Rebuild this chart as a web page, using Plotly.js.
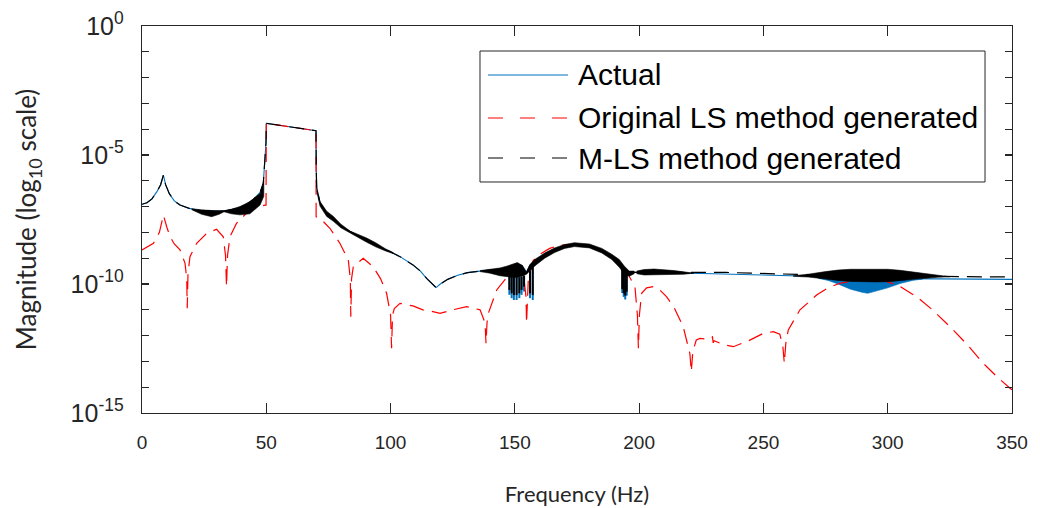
<!DOCTYPE html>
<html>
<head>
<meta charset="utf-8">
<script src="https://cdn.plot.ly/plotly-3.0.1.min.js"></script>
<style>html,body{margin:0;padding:0;background:#fff;}#chart{width:1040px;height:508px;}</style>
</head>
<body>
<div id="chart"></div>
<script>
// ---- Data (magnitudes stored as log10 values) ----
const actualX = [0,2,4,6,7.5,8.6,9.5,11,13,15.3,19,23,28,33,38,42,45,47.5,48.8,49.5,49.9,50,70,70.1,70.3,71.6,74.3,77,79.6,83.7,86,90.4,94,98,103.8,109,112,114.5,116.5,118.3,120,123,127,131,136,140,144,148,151,153,154.7,156,158,162,166,170,173.5,178,182,186,189,192,194,196,198,202,210,220,230,245,260,275,290,305,320,335,350];
const actualLog = [-6.91,-6.85,-6.7,-6.42,-6.15,-5.78,-6.15,-6.5,-6.78,-6.94,-7.07,-7.14,-7.17,-7.17,-7.08,-6.92,-6.7,-6.45,-6.1,-5.3,-4.5,-3.77,-4.06,-5.6,-6.3,-6.85,-7.26,-7.45,-7.71,-7.97,-8.08,-8.29,-8.47,-8.67,-8.94,-9.26,-9.5,-9.78,-9.98,-10.14,-10.0,-9.82,-9.66,-9.56,-9.5,-9.47,-9.42,-9.33,-9.22,-9.3,-9.55,-9.3,-9.1,-8.85,-8.65,-8.52,-8.46,-8.5,-8.6,-8.75,-8.92,-9.15,-9.4,-9.6,-9.55,-9.55,-9.56,-9.58,-9.6,-9.64,-9.68,-9.73,-9.77,-9.79,-9.8,-9.81,-9.82];

const lsX = [0,4.6,7,8.6,10,11.3,13,15.3,17.3,18,18.2,18.5,19.3,22,26,30,32.7,33.6,34,34.4,35.4,38,42,46,49.5,49.9,50,70,70.05,72.3,75.6,79.6,83,83.8,84,84.3,85,89,93,96,98.4,100,100.4,100.8,101.5,103.8,109,113,116,119.9,125,130.6,136,138,138.4,138.8,139.3,142.7,148,151,153.4,154.5,154.7,155,155.4,157.3,160,164,168,173.5,179,184,188,191,194,196,198.3,199.3,199.7,200.1,201,203,205.7,208,211,214,217.7,220.4,221,221.6,223,224.5,228,229.5,229.8,230.2,234,237.9,244,250,254,256.6,257.8,258.4,259,260,264.7,271.4,276,280.8,290,299.5,305,311.6,318,325,332,338.4,344,349.2,350];
const lsLog = [-8.68,-8.42,-8.0,-7.33,-7.8,-8.17,-8.45,-8.68,-9.19,-9.8,-10.94,-9.6,-8.94,-8.42,-8.04,-7.88,-8.17,-8.9,-10.1,-8.9,-8.17,-7.65,-7.26,-7.03,-6.94,-6.94,-3.77,-4.06,-7.39,-7.52,-7.84,-8.42,-9.07,-9.8,-11.27,-9.8,-9.33,-9.0,-9.33,-9.8,-10.36,-11.2,-12.49,-11.2,-10.95,-10.75,-10.85,-11.0,-11.05,-11.14,-11.0,-10.88,-11.0,-11.5,-12.3,-11.5,-11.14,-10.23,-9.59,-9.45,-9.59,-10.5,-11.52,-10.5,-9.84,-9.1,-8.85,-8.62,-8.5,-8.46,-8.5,-8.68,-8.85,-9.07,-9.4,-9.7,-10.1,-11.2,-12.49,-11.2,-10.36,-10.15,-10.1,-10.2,-10.49,-10.9,-11.65,-12.69,-13.4,-12.6,-12.17,-12.11,-12.15,-12.05,-12.28,-12.2,-12.35,-12.43,-12.2,-11.91,-11.85,-11.95,-12.4,-13.07,-12.3,-11.78,-11.0,-10.43,-10.15,-9.97,-9.82,-9.9,-10.1,-10.49,-11.0,-11.65,-12.35,-13.07,-13.6,-14.04,-14.1];

const mlsX = [0,2,4,6,7.5,8.6,9.5,11,13,15.3,19,23,28,33,38,42,45,47.5,48.8,49.5,49.9,50,70,70.1,70.3,71.6,74.3,77,79.6,83.7,86,90.4,94,98,103.8,109,112,114.5,116.5,118.3,120,123,127,131,136,140,144,148,151,153,154.7,156,158,162,166,170,173.5,178,182,186,189,192,194,196,198,202,210,218,225,235,245,255,265,280,300,320,335,350];
const mlsLog = [-6.91,-6.85,-6.7,-6.42,-6.15,-5.78,-6.15,-6.5,-6.78,-6.94,-7.07,-7.14,-7.17,-7.17,-7.08,-6.92,-6.7,-6.45,-6.1,-5.3,-4.5,-3.77,-4.06,-5.6,-6.3,-6.85,-7.26,-7.45,-7.71,-7.97,-8.08,-8.29,-8.47,-8.67,-8.94,-9.26,-9.5,-9.78,-9.98,-10.14,-10.0,-9.82,-9.66,-9.56,-9.5,-9.47,-9.42,-9.33,-9.22,-9.3,-9.55,-9.3,-9.1,-8.85,-8.65,-8.52,-8.46,-8.5,-8.6,-8.75,-8.92,-9.15,-9.4,-9.6,-9.55,-9.55,-9.55,-9.54,-9.53,-9.55,-9.58,-9.61,-9.64,-9.67,-9.69,-9.7,-9.71,-9.73];

// oscillation envelopes (M-LS, black)
const mlsBand1X  = [20,24,28,31,33,36,39.4,43.4,47.5,49];
const mlsBand1Hi = [-7.08,-7.13,-7.15,-7.16,-7.16,-7.1,-7.0,-6.81,-6.49,-6.0];
const mlsBand1Lo = [-7.12,-7.3,-7.39,-7.3,-7.2,-7.28,-7.32,-7.28,-6.94,-6.6];
const mlsBand2X  = [70.3,71.6,74.3,77,80,83.7,86,90.4,94,98,101];
const mlsBand2Hi = [-6.25,-6.8,-7.18,-7.38,-7.68,-7.95,-8.04,-8.22,-8.4,-8.64,-8.78];
const mlsBand2Lo = [-6.4,-6.98,-7.38,-7.57,-7.82,-8.0,-8.14,-8.38,-8.56,-8.72,-8.82];
const mlsBand3X  = [136,140,144,147,149,151,153,154.7,156,158,162,166,170,174,180,185,189,192,194,196,198];
const mlsBand3Hi = [-9.48,-9.44,-9.38,-9.3,-9.24,-9.17,-9.28,-9.55,-9.25,-9.05,-8.8,-8.6,-8.47,-8.4,-8.45,-8.62,-8.85,-9.05,-9.3,-9.5,-9.5];
const mlsBand3Lo = [-9.52,-9.58,-9.68,-9.72,-9.74,-9.75,-9.7,-9.62,-9.5,-9.3,-9.0,-8.78,-8.62,-8.55,-8.6,-8.8,-9.05,-9.35,-9.6,-9.7,-9.6];
const mlsBand4X  = [199,202,206,210,214,218,222];
const mlsBand4Hi = [-9.5,-9.44,-9.42,-9.44,-9.48,-9.53,-9.56];
const mlsBand4Lo = [-9.6,-9.65,-9.66,-9.65,-9.63,-9.62,-9.58];
const mlsBand5X  = [262,268,275,280,285,290,295,300,305,310,315,320,325];
const mlsBand5Hi = [-9.68,-9.62,-9.52,-9.46,-9.43,-9.42,-9.42,-9.43,-9.47,-9.53,-9.6,-9.66,-9.7];
const mlsBand5Lo = [-9.7,-9.73,-9.8,-9.86,-9.9,-9.92,-9.92,-9.91,-9.87,-9.82,-9.77,-9.74,-9.72];
// oscillation envelope (Actual, blue)
const actBandX  = [272,276,280,285,290,292,295,300,305,310,314];
const actBandHi = [-9.74,-9.75,-9.76,-9.77,-9.78,-9.78,-9.78,-9.79,-9.79,-9.8,-9.8];
const actBandLo = [-9.78,-9.86,-10.0,-10.2,-10.33,-10.36,-10.3,-10.15,-9.98,-9.86,-9.81];
// downward spikes
const spikeX      = [147.8,148.7,149.6,150.7,151.8,152.7,153.7,156.1,157.2,193.2,193.8,194.4,195.0];
const spikeTop    = [-9.7,-9.72,-9.73,-9.74,-9.74,-9.72,-9.68,-9.5,-9.35,-9.3,-9.4,-9.5,-9.6];
const mlsSpikeBot = [-10.23,-10.36,-10.43,-10.43,-10.36,-10.23,-10.1,-10.36,-10.43,-10.2,-10.36,-10.45,-10.3];
const actSpikeBot = [-10.42,-10.55,-10.62,-10.62,-10.55,-10.42,-10.29,-10.55,-10.62,-10.35,-10.5,-10.6,-10.45];

const yMajor = [-15,-10,-5,0];
const yMinor = [-14,-13,-12,-11,-9,-8,-7,-6,-4,-3,-2,-1];
const xTicks = [0,50,100,150,200,250,300,350];
const legendLabels = ['Actual','Original LS method generated','M-LS method generated'];

// ---- Build ----
const mag = a => a.map(v => Math.pow(10, v));
const BLUE = '#0072BD', RED = '#FF0000', BLACK = '#000000';

function band(x, hi, lo, color){
  return {x: x.concat(x.slice().reverse()), y: mag(hi.concat(lo.slice().reverse())),
    type:'scatter', mode:'lines', fill:'toself', fillcolor:color, line:{width:0.6,color:color},
    hoverinfo:'skip', showlegend:false};
}
function spikes(x, top, bot, color, w){
  const xs=[], ys=[];
  x.forEach((v,i)=>{ xs.push(v,v,null); ys.push(Math.pow(10,top[i]),Math.pow(10,bot[i]),null); });
  return {x:xs, y:ys, type:'scatter', mode:'lines', line:{color:color,width:w}, hoverinfo:'skip', showlegend:false};
}

const traces = [
  {x: actualX, y: mag(actualLog), type:'scatter', mode:'lines', line:{color:BLUE,width:1.1}, showlegend:false},
  band(actBandX, actBandHi, actBandLo, BLUE),
  spikes(spikeX, spikeTop, actSpikeBot, BLUE, 2),
  {x: lsX, y: mag(lsLog), type:'scatter', mode:'lines', line:{color:RED,width:1.2,dash:'15px,8px'}, showlegend:false},
  {x: mlsX, y: mag(mlsLog), type:'scatter', mode:'lines', line:{color:BLACK,width:1.2,dash:'15px,8px'}, showlegend:false},
  band(mlsBand1X, mlsBand1Hi, mlsBand1Lo, BLACK),
  band(mlsBand2X, mlsBand2Hi, mlsBand2Lo, BLACK),
  band(mlsBand3X, mlsBand3Hi, mlsBand3Lo, BLACK),
  band(mlsBand4X, mlsBand4Hi, mlsBand4Lo, BLACK),
  band(mlsBand5X, mlsBand5Hi, mlsBand5Lo, BLACK),
  spikes(spikeX, spikeTop, mlsSpikeBot, BLACK, 2)
];

const AX = '#262626';
const ticktext = yMajor.map(d => '10<sup>' + (d===0?'0':String(d)) + '</sup>');

// custom legend (paper coords)
const L = {x0:0.3885, x1:0.969, y0:0.5969, y1:0.9354, sx0:0.3977, sx1:0.4897, tx:0.4989, rows:[0.8734,0.7623,0.6589]};
const legColors = [BLUE, RED, BLACK];
const legDash = ['solid','15px,17px','15px,17px'];
const shapes = [{type:'rect', xref:'paper', yref:'paper', x0:L.x0, x1:L.x1, y0:L.y0, y1:L.y1,
  line:{color:AX,width:1}, fillcolor:'#ffffff', layer:'above'}];
const annotations = [];
legendLabels.forEach((t,i)=>{
  shapes.push({type:'line', xref:'paper', yref:'paper', x0:L.sx0, x1:L.sx1, y0:L.rows[i], y1:L.rows[i],
    line:{color:legColors[i], width:1.2, dash:legDash[i]}, layer:'above'});
  annotations.push({xref:'paper', yref:'paper', x:L.tx, y:L.rows[i], xanchor:'left', yanchor:'middle',
    text:t, showarrow:false, font:{family:'Liberation Sans, Arial, sans-serif', size:30, color:'#000'}});
});

const layout = {
  width:1040, height:508,
  margin:{l:142, r:28, t:26, b:95},
  paper_bgcolor:'#fff', plot_bgcolor:'#fff',
  showlegend:false,
  xaxis:{range:[0,350], tickvals:xTicks, ticktext:xTicks.map(String), ticks:'inside', ticklen:10, tickwidth:1.2,
    tickcolor:AX, showline:true, linecolor:AX, linewidth:1.3, mirror:'allticks', showgrid:false, zeroline:false,
    ticklabelstandoff:12,
    tickfont:{family:'Liberation Sans, Arial, sans-serif', size:19, color:'#262626'},
    title:{text:'Frequency (Hz)', standoff:34, font:{family:'Lato, Open Sans, sans-serif', size:22, color:'#262626'}}},
  yaxis:{type:'log', range:[-15,0], tickvals:mag(yMajor), ticktext:ticktext, ticks:'inside', ticklen:7, tickwidth:1.2,
    tickcolor:AX, showline:true, linecolor:AX, linewidth:1.3, mirror:'allticks', showgrid:false, zeroline:false,
    ticklabelstandoff:12,
    minor:{tickvals:mag(yMinor), ticks:'inside', ticklen:7, tickwidth:1.2, tickcolor:AX, showgrid:false},
    tickfont:{family:'Liberation Sans, Arial, sans-serif', size:25, color:'#262626'},
    title:{text:'Magnitude (log<sub>10</sub> scale)', standoff:26, font:{family:'Lato, Open Sans, sans-serif', size:26, color:'#262626'}}},
  shapes:shapes, annotations:annotations
};

Plotly.newPlot('chart', traces, layout, {staticPlot:true, displayModeBar:false});
</script>
</body>
</html>
